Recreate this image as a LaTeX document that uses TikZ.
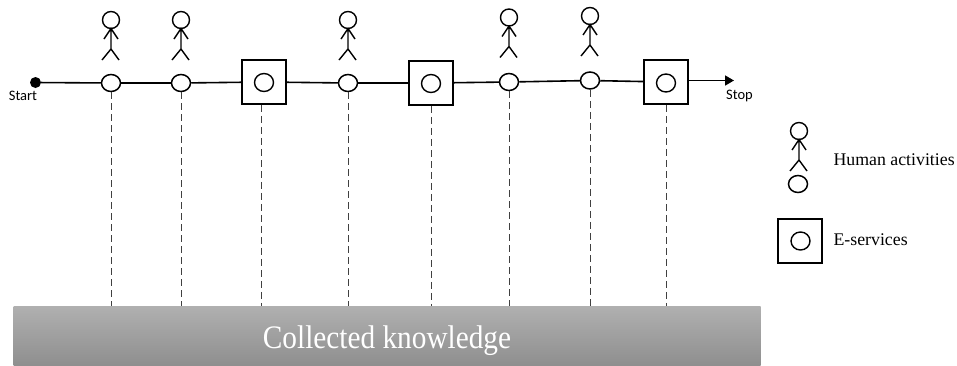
\documentclass[tikz,border=0pt]{standalone}
\usepackage{fontspec}
\setmainfont{Liberation Serif}
\newfontfamily\labelfont{Carlito}
\usetikzlibrary{arrows.meta,shapes.geometric}
\begin{document}
\begin{tikzpicture}[x=1pt,y=-1pt,
    activity/.style={draw, ellipse, line width=1.5pt, fill=white, inner sep=0pt, minimum width=19pt, minimum height=17pt},
    inner/.style={draw, ellipse, line width=1.4pt, fill=white, inner sep=0pt, minimum width=19pt, minimum height=18pt},
    service/.style={draw, rectangle, line width=1.5pt, fill=white, inner sep=0pt, minimum size=44pt},
    person/.pic={
      \draw[line width=1.4pt] (0,0) circle (8.5);
      \draw[line width=1.4pt] (0,8.5)--(0,29) (-7,19)--(0,8.5)--(7,19) (-9,40)--(0,29)--(8,40);
    },
    dashline/.style={line width=0.7pt, black!75, dash pattern=on 7pt off 4pt},
    flow/.style={line width=1.6pt},
    sidetext/.style={font=\fontsize{17.8}{20}\selectfont, anchor=west},
    endtext/.style={font=\labelfont\fontsize{14.5}{16}\selectfont}]
  \useasboundingbox (0,0) rectangle (957,365);
  \node[rectangle, inner sep=0pt, minimum width=747pt, minimum height=59pt, top color=black!31, bottom color=black!44] (bar) at (387,335.5) {};
  \node[text=white, font=\fontsize{29.3}{34}\selectfont, yscale=1.12] (barlabel) at (387,341) {Collected knowledge};
  % the process line
  \node[circle, fill=black, inner sep=0pt, minimum size=11pt] (start) at (35.5,82.5) {};
  \node[activity] (h1) at (111,83) {};
  \node[activity] (h2) at (181,83) {};
  \node[service] (s1) at (264,82) {};
  \node[activity] (h3) at (348,83) {};
  \node[service] (s2) at (431,83) {};
  \node[activity] (h4) at (509,82) {};
  \node[activity] (h5) at (590,80.5) {};
  \node[service] (s3) at (666,82) {};
  \coordinate (end) at (734,80.5);
  \draw[flow] (start)--(h1);
  \draw[flow] (h1)--(h2);
  \draw[flow] (h2)--(s1);
  \draw[flow] (s1)--(h3);
  \draw[flow] (h3)--(s2);
  \draw[flow] (s2)--(h4);
  \draw[flow] (h4)--(h5);
  \draw[flow] (h5)--(s3);
  \draw[flow, -{Triangle[length=9pt, width=10pt]}] (s3.east |- end)--(end);
  \node[inner] (c1) at (264,82.5) {};
  \node[inner] (c2) at (431,83.5) {};
  \node[inner] (c3) at (666,83) {};
  \node[endtext] (startlabel) at (23,96) {Start};
  \node[endtext] (stoplabel) at (739.5,96) {Stop};
  % people above the line
  \pic at (111,20) {person};
  \pic at (181,20) {person};
  \pic at (348,20) {person};
  \pic at (509,17.5) {person};
  \pic at (590,16) {person};
  % links down to the knowledge
  \draw[dashline] (h1)--(h1 |- bar.north);
  \draw[dashline] (h2)--(h2 |- bar.north);
  \draw[dashline] ([xshift=-3pt]s1.south)--([xshift=-3pt]s1.south |- bar.north);
  \draw[dashline] (h3)--(h3 |- bar.north);
  \draw[dashline] (s2)--(s2 |- bar.north);
  \draw[dashline] (h4)--(h4 |- bar.north);
  \draw[dashline] (h5)--(h5 |- bar.north);
  \draw[dashline] (s3)--(s3 |- bar.north);
  % legend
  \pic at (799,131) {person};
  \node[activity] (legendh) at (798,184) {};
  \node[sidetext] (legendhtext) at (830,160) {Human activities};
  \node[service] (legends) at (800,241) {};
  \node[inner] (legendc) at (800.5,241) {};
  \node[sidetext] (legendstext) at (830,240) {E-services};
\end{tikzpicture}
\end{document}
